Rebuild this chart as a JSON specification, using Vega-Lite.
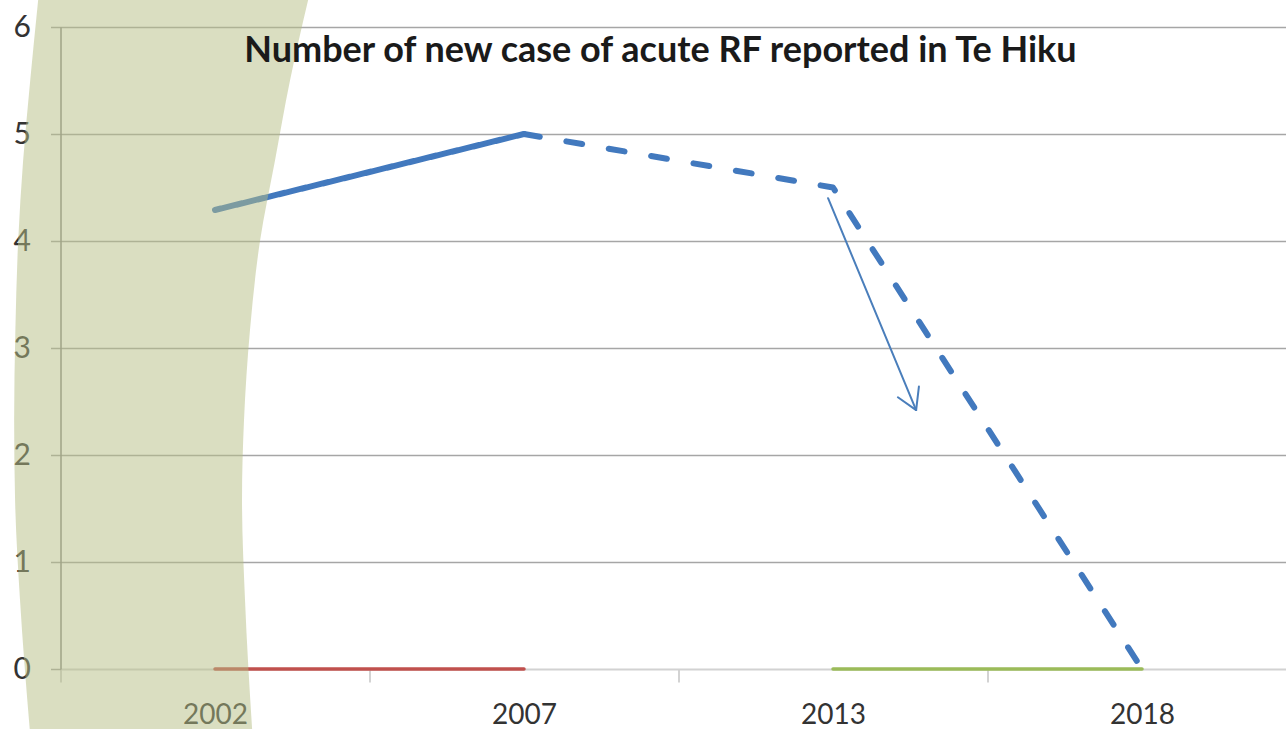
{
  "$schema": "https://vega.github.io/schema/vega-lite/v6.json",
  "autosize": "none",
  "width": 1226,
  "height": 642,
  "padding": {"left": 60.5, "top": 27, "right": 0, "bottom": 60},
  "background": "white",
  "config": {"view": {"stroke": null}, "font": "Lato"},
  "title": {
    "text": "Number of new case of acute RF reported in Te Hiku",
    "font": "Lato",
    "fontSize": 36,
    "fontWeight": "bold",
    "color": "#1a1a1a",
    "anchor": "middle",
    "baseline": "alphabetic",
    "offset": 0,
    "dx": -13,
    "dy": 99
  },
  "datasets": {
    "trend": [
      {"year": "2002", "idx": 0, "cases": 4.29, "period": "reported"},
      {"year": "2007", "idx": 1, "cases": 5.0, "period": "reported"},
      {"year": "2007", "idx": 1, "cases": 5.0, "period": "projected"},
      {"year": "2013", "idx": 2, "cases": 4.5, "period": "projected"},
      {"year": "2018", "idx": 3, "cases": 0, "period": "projected"}
    ],
    "zero": [
      {"year": "2002", "idx": 0, "cases": 0, "span": "early"},
      {"year": "2007", "idx": 1, "cases": 0, "span": "early"},
      {"year": "2013", "idx": 2, "cases": 0, "span": "late"},
      {"year": "2018", "idx": 3, "cases": 0, "span": "late"}
    ],
    "arrow": [
      {"part": "shaft", "x0": 1.984, "y0": 4.4, "x1": 2.269, "y1": 2.42},
      {"part": "head1", "x0": 2.21, "y0": 2.54, "x1": 2.269, "y1": 2.42},
      {"part": "head2", "x0": 2.278, "y0": 2.64, "x1": 2.269, "y1": 2.42}
    ],
    "band": [
      {"yv": 6.26, "left": -0.572, "right": 0.302},
      {"yv": 5.5, "left": -0.598, "right": 0.2427},
      {"yv": 4.75, "left": -0.621, "right": 0.194},
      {"yv": 4.0, "left": -0.637, "right": 0.1456},
      {"yv": 3.17, "left": -0.646, "right": 0.1133},
      {"yv": 2.33, "left": -0.65, "right": 0.0939},
      {"yv": 1.58, "left": -0.647, "right": 0.0874},
      {"yv": 0.645, "left": -0.631, "right": 0.0971},
      {"yv": -0.65, "left": -0.597, "right": 0.122}
    ]
  },
  "layer": [
    {
      "data": {"name": "zero"},
      "mark": {"type": "line", "strokeWidth": 3.5, "strokeCap": "round"},
      "encoding": {
        "x": {
          "field": "idx",
          "type": "quantitative",
          "scale": {"domain": [-0.5, 3.4676], "nice": false, "zero": false},
          "axis": {
            "values": [-0.5, 0, 0.5, 1, 1.5, 2, 2.5, 3],
            "labelExpr": "datum.value == 0 ? '2002' : datum.value == 1 ? '2007' : datum.value == 2 ? '2013' : datum.value == 3 ? '2018' : ''",
            "tickOpacity": {"condition": {"test": "datum.value % 1 != 0", "value": 1}, "value": 0},
            "tickSize": 13,
            "tickColor": "#c4c4c4",
            "tickWidth": 1.5,
            "domainColor": "#d2d2d2",
            "domainWidth": 2,
            "grid": false,
            "labelFont": "Lato",
            "labelFontSize": 28,
            "labelColor": "#333333",
            "labelPadding": 19,
            "labelFlush": false,
            "labelOverlap": false,
            "title": null
          }
        },
        "y": {
          "field": "cases",
          "type": "quantitative",
          "scale": {"domain": [0, 6], "nice": false},
          "axis": {
            "values": [0, 1, 2, 3, 4, 5, 6],
            "format": "d",
            "grid": true,
            "gridColor": "#a6a6a6",
            "gridWidth": 1.5,
            "gridOpacity": {"condition": {"test": "datum.value == 0", "value": 0}, "value": 1},
            "tickColor": "#a6a6a6",
            "tickSize": 10,
            "tickWidth": 1.5,
            "domainColor": "#8a8a8a",
            "domainWidth": 1.5,
            "labelFont": "Lato",
            "labelFontSize": 30,
            "labelColor": "#333333",
            "labelPadding": 20,
            "labelFlush": false,
            "title": null
          }
        },
        "detail": {"field": "span"},
        "color": {
          "field": "span",
          "type": "nominal",
          "scale": {"domain": ["early", "late"], "range": ["#c0504d", "#9bbb59"]},
          "legend": null
        }
      }
    },
    {
      "data": {"name": "trend"},
      "mark": {"type": "line", "strokeWidth": 6, "strokeCap": "round", "strokeJoin": "round", "color": "#4279be"},
      "encoding": {
        "x": {"field": "idx", "type": "quantitative"},
        "y": {"field": "cases", "type": "quantitative"},
        "strokeDash": {
          "field": "period",
          "type": "nominal",
          "scale": {"domain": ["reported", "projected"], "range": [[1, 0], [16, 27]]},
          "legend": null
        }
      }
    },
    {
      "data": {"name": "arrow"},
      "mark": {"type": "rule", "strokeWidth": 2, "color": "#4a7ebb", "strokeCap": "round"},
      "encoding": {
        "x": {"field": "x0", "type": "quantitative"},
        "y": {"field": "y0", "type": "quantitative"},
        "x2": {"field": "x1"},
        "y2": {"field": "y1"}
      }
    },
    {
      "data": {"name": "band"},
      "mark": {"type": "area", "orient": "horizontal", "interpolate": "monotone", "fill": "#b5bd83", "opacity": 0.5},
      "encoding": {
        "y": {"field": "yv", "type": "quantitative"},
        "x": {"field": "left", "type": "quantitative"},
        "x2": {"field": "right"}
      }
    }
  ]
}
